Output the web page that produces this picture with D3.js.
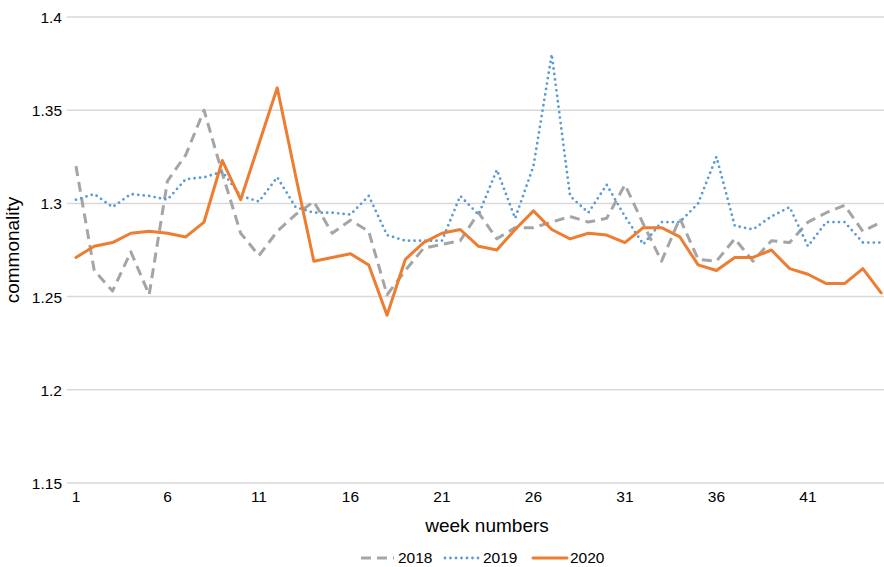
<!DOCTYPE html>
<html>
<head>
<meta charset="utf-8">
<script src="https://cdn.jsdelivr.net/npm/d3@7"></script>
<style>
  html, body { margin: 0; padding: 0; background: #fff; }
  svg { display: block; }
  text { font-family: "Liberation Sans", Arial, sans-serif; fill: #000; }
</style>
</head>
<body>
<svg id="chart" width="884" height="567"></svg>
<script>
const weeks = d3.range(1, 46);
const xTickLabels = [1, 6, 11, 16, 21, 26, 31, 36, 41];
const yTickLabels = [1.15, 1.2, 1.25, 1.3, 1.35, 1.4];

const s2018 = [1.320, 1.264, 1.253, 1.274, 1.251, 1.312, 1.326, 1.350, 1.316, 1.284,
               1.272, 1.285, 1.294, 1.301, 1.284, 1.291, 1.285, 1.251, 1.264, 1.276,
               1.278, 1.280, 1.295, 1.281, 1.287, 1.287, 1.290, 1.293, 1.290, 1.292,
               1.310, 1.289, 1.269, 1.292, 1.270, 1.269, 1.281, 1.269, 1.280, 1.279,
               1.290, 1.295, 1.299, 1.285, 1.290];
const s2019 = [1.302, 1.305, 1.298, 1.305, 1.304, 1.302, 1.313, 1.314, 1.317, 1.304,
               1.301, 1.314, 1.298, 1.295, 1.295, 1.294, 1.304, 1.283, 1.280, 1.280,
               1.280, 1.304, 1.294, 1.318, 1.292, 1.320, 1.380, 1.304, 1.295, 1.310,
               1.293, 1.278, 1.290, 1.290, 1.300, 1.325, 1.288, 1.286, 1.293, 1.298,
               1.277, 1.290, 1.290, 1.279, 1.279];
const s2020 = [1.271, 1.277, 1.279, 1.284, 1.285, 1.284, 1.282, 1.290, 1.323, 1.302,
               1.332, 1.362, 1.315, 1.269, 1.271, 1.273, 1.267, 1.240, 1.270, 1.279,
               1.284, 1.286, 1.277, 1.275, 1.286, 1.296, 1.286, 1.281, 1.284, 1.283,
               1.279, 1.287, 1.287, 1.282, 1.267, 1.264, 1.271, 1.271, 1.275, 1.265,
               1.262, 1.257, 1.257, 1.265, 1.252];

const seriesNames = ["2018", "2019", "2020"];
const seriesValues = [s2018, s2019, s2020];
const seriesColors = ["#a5a5a5", "#5b9bd5", "#ed7d31"];
const seriesDash = ["10,6", "0,5.5", null];
const seriesCap = ["butt", "round", "round"];
const seriesWidth = [3, 2.8, 3];

(function () {
const svg = d3.select("#chart");
const pLeft = 66.8, pRight = 890.3, pTop = 17, pBottom = 483;

const x = d3.scaleBand().domain(weeks).range([pLeft, pRight]);
const y = d3.scaleLinear().domain([1.15, 1.4]).range([pBottom, pTop]);
const cx = w => x(w) + x.bandwidth() / 2;

// gridlines
svg.append("g")
  .selectAll("line")
  .data(yTickLabels)
  .join("line")
  .attr("x1", pLeft).attr("x2", pRight)
  .attr("y1", d => y(d)).attr("y2", d => y(d))
  .attr("stroke", "#d9d9d9").attr("stroke-width", 1.5);

// y axis labels
const yAxis = d3.axisLeft(y).tickValues(yTickLabels).tickSize(0).tickPadding(0)
  .tickFormat(d => String(+d.toFixed(2)));
svg.append("g")
  .attr("transform", `translate(${62},0)`)
  .call(yAxis)
  .call(g => g.select(".domain").remove())
  .call(g => g.selectAll("text").style("font-size", "15.5px")
    .style("font-family", "'Liberation Sans', Arial, sans-serif").attr("fill", "#000").attr("dy", "0.35em"));

// x axis labels
const xAxis = d3.axisBottom(x).tickValues(xTickLabels).tickSize(0).tickPadding(0);
svg.append("g")
  .attr("transform", `translate(0,${pBottom + 7})`)
  .call(xAxis)
  .call(g => g.select(".domain").remove())
  .call(g => g.selectAll("text").style("font-size", "15.5px")
    .style("font-family", "'Liberation Sans', Arial, sans-serif").attr("fill", "#000").attr("dy", "0.8em"));

// lines
const line = d3.line().x((d, i) => cx(weeks[i])).y(d => y(d));
seriesValues.forEach((vals, k) => {
  const p = svg.append("path")
    .datum(vals)
    .attr("d", line)
    .attr("fill", "none")
    .attr("stroke", seriesColors[k])
    .attr("stroke-width", seriesWidth[k])
    .attr("stroke-linejoin", "round")
    .attr("stroke-linecap", seriesCap[k]);
  if (seriesDash[k]) p.attr("stroke-dasharray", seriesDash[k]);
});

// axis titles
svg.append("text")
  .attr("x", 487).attr("y", 532)
  .attr("text-anchor", "middle")
  .style("font-size", "19px")
  .text("week numbers");

svg.append("text")
  .attr("transform", `translate(19,${250}) rotate(-90)`)
  .attr("text-anchor", "middle")
  .style("font-size", "19px")
  .text("commonality");

// legend
const legendItems = [
  { x0: 361, x1: 394, tx: 398 },
  { x0: 445, x1: 479, tx: 483 },
  { x0: 533, x1: 567, tx: 570 }
];
const lg = svg.append("g");
legendItems.forEach((it, k) => {
  const l = lg.append("line")
    .attr("x1", it.x0).attr("x2", it.x1)
    .attr("y1", 558).attr("y2", 558)
    .attr("stroke", seriesColors[k])
    .attr("stroke-width", seriesWidth[k])
    .attr("stroke-linecap", seriesCap[k]);
  if (seriesDash[k]) l.attr("stroke-dasharray", seriesDash[k]);
  lg.append("text")
    .attr("x", it.tx).attr("y", 558).attr("dy", "0.35em")
    .style("font-size", "15.5px")
    .text(seriesNames[k]);
});
})();
</script>
</body>
</html>
